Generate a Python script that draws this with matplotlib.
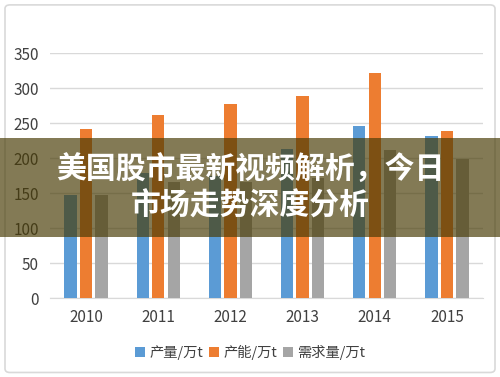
import matplotlib
matplotlib.use("Agg")
import matplotlib.pyplot as plt
import numpy as np
from matplotlib.patches import FancyBboxPatch, Rectangle

years = ["2010", "2011", "2012", "2013", "2014", "2015"]
output = [147, 178, 175, 213, 246, 231]
capacity = [241, 261, 277, 289, 321, 239]
demand = [147, 166, 166, 171, 211, 198]
series_names = ["产量/万t", "产能/万t", "需求量/万t"]
colors = ["#5B9BD5", "#ED7D31", "#A5A5A5"]
title_lines = ["美国股市最新视频解析，今日", "市场走势深度分析"]

plt.rcParams['font.family'] = ['Noto Sans CJK SC', 'DejaVu Sans']

fig = plt.figure(figsize=(5, 3.77), dpi=100)
ax = fig.add_axes([0.1, 0.2095, 0.866, 0.6495])

x = np.arange(len(years))
w = 0.17
step = 0.215
for i, (vals, c, n) in enumerate(zip([output, capacity, demand], colors, series_names)):
    ax.bar(x + (i - 1) * step, vals, width=w, color=c, label=n, zorder=3)

ax.set_xlim(-0.5, len(years) - 0.5)
ax.set_ylim(0, 350)
ax.set_yticks(range(0, 351, 50))
ax.set_xticks(x)
ax.set_xticklabels(years)
ax.yaxis.grid(True, color="#D9D9D9", linewidth=1, zorder=0)
for s in ["top", "right", "left"]:
    ax.spines[s].set_visible(False)
ax.spines["bottom"].set_color("#D9D9D9")
ax.tick_params(axis="both", length=0, labelsize=11, labelcolor="#404040")
ax.tick_params(axis="y", pad=8)
ax.tick_params(axis="x", pad=8)

leg = fig.legend(loc="center", bbox_to_anchor=(0.5, 0.066), ncol=3, frameon=False,
                 fontsize=10.3, handlelength=0.7, handleheight=0.7, handletextpad=0.3,
                 columnspacing=0.4, labelcolor="#404040")

# border
fig.patches.append(FancyBboxPatch((0.01, 0.012), 0.98, 0.975, boxstyle="round,pad=0,rounding_size=0.01",
                                  transform=fig.transFigure, fill=False, edgecolor="#D9D9D9", linewidth=1.2))

# banner overlay
fig.patches.append(Rectangle((0, (377 - 237) / 377), 1, 99 / 377, transform=fig.transFigure,
                             facecolor=(72/255, 59/255, 5/255), alpha=0.68, edgecolor="none", zorder=5))
fig.text(0.5, 1 - 170 / 377, title_lines[0], ha="center", va="center", color="white",
         fontsize=21.5, fontweight="bold", zorder=6)
fig.text(0.5, 1 - 206 / 377, title_lines[1], ha="center", va="center", color="white",
         fontsize=21.5, fontweight="bold", zorder=6)

fig.savefig("out.png", dpi=100)
